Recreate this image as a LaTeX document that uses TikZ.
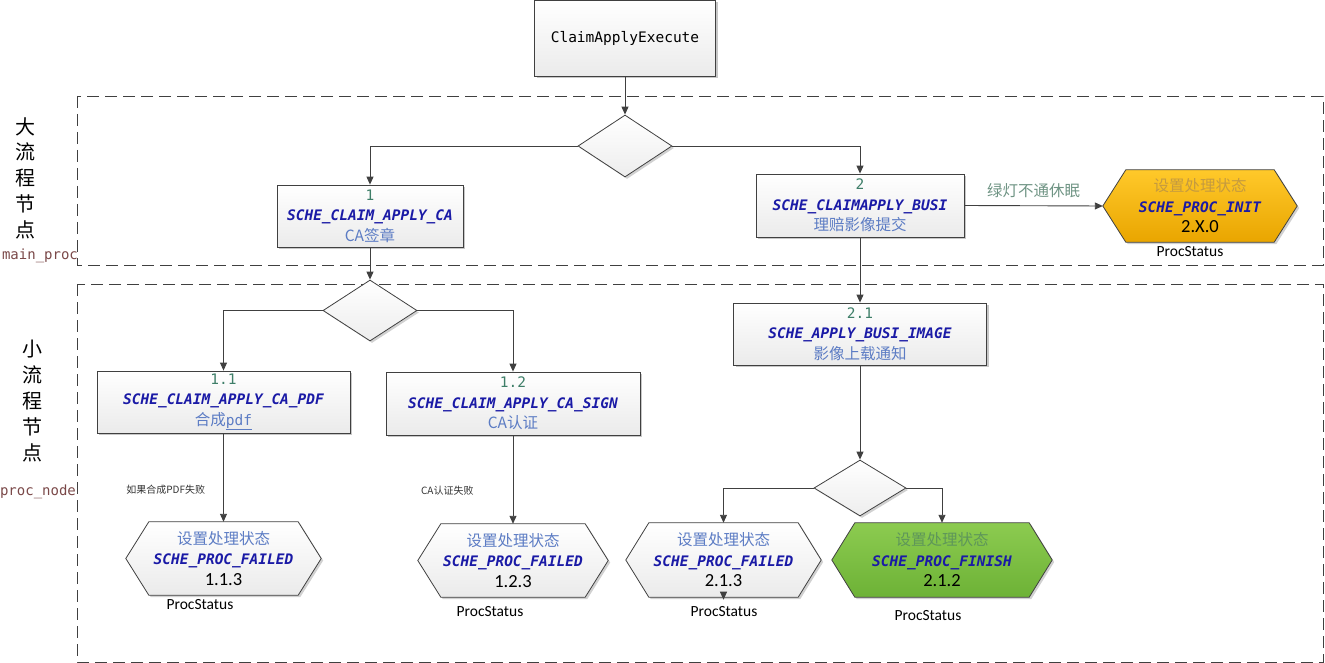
\documentclass[tikz,border=0pt]{standalone}
\usepackage{fontspec}
\setmainfont{Carlito}
\setmonofont{DejaVu Sans Mono}
\newfontfamily\cjk{Noto Sans CJK SC}
\usetikzlibrary{arrows.meta,shapes.geometric,shadows,backgrounds}

\definecolor{linec}{HTML}{404040}
\definecolor{numc}{HTML}{3E7E68}
\definecolor{codec}{HTML}{1A1AA6}
\definecolor{descc}{HTML}{5C7CC4}
\definecolor{labc}{HTML}{7A4848}
\definecolor{sleepc}{HTML}{6F9484}
\definecolor{inittop}{HTML}{FFC92A}
\definecolor{initbot}{HTML}{E9A500}
\definecolor{initdesc}{HTML}{C49A40}
\definecolor{fintop}{HTML}{8CCB50}
\definecolor{finbot}{HTML}{6DB236}
\definecolor{findesc}{HTML}{5E965A}

\newcommand\numt[1]{{\color{numc}\ttfamily\fontsize{14.5}{20.5}\selectfont #1}}
\newcommand\codet[1]{{\color{codec}\ttfamily\bfseries\itshape\fontsize{14.5}{20.5}\selectfont #1}}
\newcommand\desct[2][descc]{{\color{#1}\cjk\fontsize{15.5}{20.5}\selectfont #2}}
\newcommand\vtxt[1]{{\color{black}\fontsize{18.5}{20.5}\selectfont #1}}

\tikzset{
  boxnode/.style={draw=linec, line width=0.8pt, top color=white, bottom color=gray!16,
    drop shadow={shadow xshift=2pt, shadow yshift=-2pt, fill=black, opacity=0.22},
    inner sep=0pt, align=center, font=\fontsize{14.5}{20.5}\selectfont},
  dianode/.style={diamond, draw=linec, line width=0.8pt, top color=white, bottom color=gray!14,
    drop shadow={shadow xshift=2pt, shadow yshift=-2pt, fill=black, opacity=0.18},
    inner sep=0pt},
  hexin/.style={inner sep=0pt, align=center, font=\fontsize{14.5}{20.5}\selectfont},
  hexshape/.style={draw=linec, line width=0.8pt,
    drop shadow={shadow xshift=2pt, shadow yshift=-2pt, fill=black, opacity=0.18}},
  failhex/.style={top color=white, bottom color=gray!16},
  inithex/.style={top color=inittop, bottom color=initbot},
  finhex/.style={top color=fintop, bottom color=finbot},
  arr/.style={draw=linec, line width=0.9pt, -{Triangle[length=8pt,width=7pt]}},
  frame/.style={draw=linec, line width=0.8pt, dash pattern=on 12pt off 6pt},
  stat/.style={font=\fontsize{15.5}{18}\selectfont, inner sep=0pt},
  sidecjk/.style={align=center, font=\cjk\fontsize{20}{25.8}\selectfont, inner sep=0pt},
  sidecode/.style={text=labc, font=\ttfamily\fontsize{14}{16}\selectfont, inner sep=0pt},
  faillab/.style={font=\cjk\fontsize{10}{11}\selectfont, text=black!80, inner sep=0pt},
}

\newcommand\hexnode[7]{%
  \node[hexin, minimum width=#4, minimum height=#5] (#1) at (#2,#3) {#7};
  \begin{scope}[on background layer]
    \path[hexshape,#6] (#1.west) -- ([xshift=23pt]#1.north west) -- ([xshift=-23pt]#1.north east)
      -- (#1.east) -- ([xshift=-23pt]#1.south east) -- ([xshift=23pt]#1.south west) -- cycle;
  \end{scope}}

\begin{document}
\begin{tikzpicture}[x=1pt,y=-1pt]
\useasboundingbox (0,0) rectangle (1325,663);

% frames
\draw[frame] (77,96) rectangle (1323,265);
\draw[frame] (77,284) rectangle (1323,662);

% side labels
\node[sidecjk] (bigl) at (25,178) {大\\流\\程\\节\\点};
\node[sidecode] (mainl) at (40,256) {main\_proc};
\node[sidecjk] (smalll) at (33,401) {小\\流\\程\\节\\点};
\node[sidecode] (procl) at (38,492) {proc\_node};

% top
\node[boxnode, minimum width=181, minimum height=76] (top) at (625,38.5)
  {\ttfamily ClaimApplyExecute};
\node[dianode, minimum width=94, minimum height=62] (d1) at (625,146) {};

% level 1
\node[boxnode, minimum width=186, minimum height=62] (b1) at (370,216)
  {\numt{1}\\\codet{SCHE\_CLAIM\_APPLY\_CA}\\\desct{CA签章}};
\node[boxnode, minimum width=208, minimum height=63] (b2) at (860,205.5)
  {\numt{2}\\\codet{SCHE\_CLAIMAPPLY\_BUSI}\\\desct{理赔影像提交}};
\hexnode{hinit}{1200}{206}{194}{72}{inithex}
  {\desct[initdesc]{设置处理状态}\\\codet{SCHE\_PROC\_INIT}\\\vtxt{2.X.0}};
\node[stat] (sinit) at (1190,252) {ProcStatus};

% level 2 left
\node[dianode, minimum width=94, minimum height=61] (d2) at (370,310.5) {};
\node[boxnode, minimum width=253, minimum height=62] (b11) at (223.5,402)
  {\numt{1.1}\\\codet{SCHE\_CLAIM\_APPLY\_CA\_PDF}\\\desct{合成}{\color{descc}\fontsize{14.5}{20.5}\selectfont\ttfamily\underline{pdf}}};
\node[boxnode, minimum width=254, minimum height=63] (b12) at (513,403.5)
  {\numt{1.2}\\\codet{SCHE\_CLAIM\_APPLY\_CA\_SIGN}\\\desct{CA认证}};
\hexnode{h113}{223.5}{558.5}{195}{73}{failhex}
  {\desct{设置处理状态}\\\codet{SCHE\_PROC\_FAILED}\\\vtxt{1.1.3}};
\node[stat] (s113) at (200,605) {ProcStatus};
\hexnode{h123}{513}{560.5}{190}{73}{failhex}
  {\desct{设置处理状态}\\\codet{SCHE\_PROC\_FAILED}\\\vtxt{1.2.3}};
\node[stat] (s123) at (490,612) {ProcStatus};

% level 2 right
\node[boxnode, minimum width=253, minimum height=62] (b21) at (860,334)
  {\numt{2.1}\\\codet{SCHE\_APPLY\_BUSI\_IMAGE}\\\desct{影像上载通知}};
\node[dianode, minimum width=92, minimum height=56] (d3) at (860,488) {};
\hexnode{h213}{723.5}{560}{195}{74}{failhex}
  {\desct{设置处理状态}\\\codet{SCHE\_PROC\_FAILED}\\\vtxt{2.1.3}};
\node[stat] (s213) at (724,612) {ProcStatus};
\hexnode{h212}{942}{560}{220}{74}{finhex}
  {\desct[findesc]{设置处理状态}\\\codet{SCHE\_PROC\_FINISH}\\\vtxt{2.1.2}};
\node[stat] (s212) at (928,616) {ProcStatus};

% connectors
\draw[arr] (top.south) -- (d1.north);
\draw[arr] (d1.west) -| (b1.north);
\draw[arr] (d1.east) -| (b2.north);
\draw[arr] (b2.east) -- node[midway, above=8pt, inner sep=0pt, text=sleepc, font=\cjk\fontsize{15.5}{18}\selectfont] (sleep) {绿灯不通休眠} (hinit.west);
\draw[arr] (b1.south) -- (d2.north);
\draw[arr] (d2.west) -| (b11.north);
\draw[arr] (d2.east) -| (b12.north);
\draw[arr] (b11.south) -- node[pos=0.64, left=18pt, faillab] (f1) {如果合成PDF失败} (h113.north);
\draw[arr] (b12.south) -- node[pos=0.62, left=39pt, faillab] (f2) {CA认证失败} (h123.north);
\draw[arr] (b2.south) -- (b21.north);
\draw[arr] (b21.south) -- (d3.north);
\draw[arr] (d3.west) -| (h213.north);
\draw[arr] (d3.east) -| (h212.north);
\coordinate (stray) at ([yshift=5pt]h213.south);
\draw[arr] (stray) -- ([yshift=-2.5pt]h213.south);
\end{tikzpicture}
\end{document}
